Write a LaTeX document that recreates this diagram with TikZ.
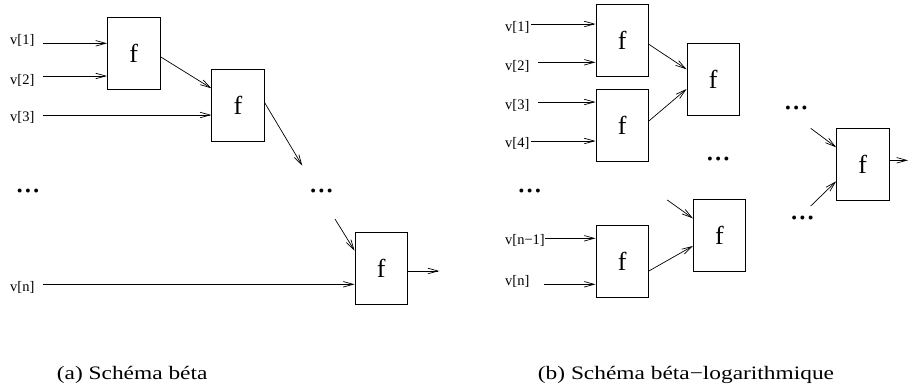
\documentclass[tikz,border=0pt]{standalone}
\usepackage{fontspec}
\setmainfont{Liberation Serif}
\newfontfamily\capfont[FakeStretch=1.23]{Liberation Serif}
\usetikzlibrary{arrows.meta,calc}
\begin{document}
\begin{tikzpicture}[x=1pt,y=-1pt,
  fbox/.style={draw,line width=0.8pt,minimum width=52.5pt,minimum height=72pt,inner sep=0pt,font=\fontsize{26}{26}\selectfont},
  lbl/.style={anchor=west,inner sep=0pt,font=\fontsize{14.5}{14.5}\selectfont},
  dotsnode/.style={anchor=base,inner sep=0pt,font=\fontsize{33}{33}\selectfont},
  captext/.style={anchor=base west,inner sep=0pt,font=\capfont\fontsize{19}{19}\selectfont},
  conn/.style={line width=0.7pt,-{Straight Barb[length=10pt,width=5.5pt]}}]
\useasboundingbox (0,0) rectangle (909,389);

% ---- (a) ----
\node[fbox] (b1) at (133.7,53.3) {f};
\node[fbox] (b2) at (238,105.3) {f};
\node[fbox] (b3) at (381.2,268.2) {f};

\node[lbl] (l1) at (10,40) {v[1]};
\node[lbl] (l2) at (10,80) {v[2]};
\node[lbl] (l3) at (10,117) {v[3]};
\node[lbl] (ln) at (10,287) {v[n]};

\coordinate (s1) at (42.7,43.3);
\coordinate (s2) at (42.7,76);
\coordinate (s3) at (42.7,115);
\coordinate (sn) at (42.7,284.3);
\draw[conn] (s1) -- (s1 -| b1.west);
\draw[conn] (s2) -- (s2 -| b1.west);
\draw[conn] (s3) -- (s3 -| b2.west);
\draw[conn] (sn) -- (sn -| b3.west);

\node[dotsnode] (d1) at (28,192.8) {...};
\node[dotsnode] (d2) at (321.5,192.8) {...};

\draw[conn] ($(b1.east)+(0,3.4)$) -- ($(b2.west)+(0,-17)$);
\coordinate (e2) at (302.3,165.7);
\draw[conn] ($(b2.east)+(0,-2.6)$) -- (e2);
\coordinate (s4) at (335,219);
\draw[conn] (s4) -- ($(b3.west)+(0,-17.5)$);
\coordinate (o1) at (439.3,271);
\draw[conn] ($(b3.east)+(0,2.8)$) -- (o1);

% ---- (b) ----
\node[fbox] (A) at (622.2,40.2) {f};
\node[fbox] (B) at (622.2,125) {f};
\node[fbox] (C) at (713.2,79.3) {f};
\node[fbox] (D) at (622.2,261.5) {f};
\node[fbox] (E) at (719.5,235.5) {f};
\node[fbox] (F) at (862.8,164) {f};

\node[lbl] (r1) at (505,27) {v[1]};
\node[lbl] (r2) at (505,66) {v[2]};
\node[lbl] (r3) at (505,105) {v[3]};
\node[lbl] (r4) at (505,143.5) {v[4]};
\node[lbl] (rn1) at (505,240.8) {v[n−1]};
\node[lbl] (rn) at (505,281.7) {v[n]};

\coordinate (t1) at (531,24);
\coordinate (t2) at (537.7,62.3);
\coordinate (t3) at (537.7,102);
\coordinate (t4) at (531,141);
\coordinate (t5) at (545,238.3);
\coordinate (t6) at (544,284.3);
\draw[conn] (t1) -- (t1 -| A.west);
\draw[conn] (t2) -- (t2 -| A.west);
\draw[conn] (t3) -- (t3 -| B.west);
\draw[conn] (t4) -- (t4 -| B.west);
\draw[conn] (t5) -- (t5 -| D.west);
\draw[conn] (t6) -- (t6 -| D.west);

\node[dotsnode] (rd1) at (529.7,192.8) {...};
\node[dotsnode] (rd2) at (718.3,160.8) {...};
\node[dotsnode] (rd3) at (796.3,109.1) {...};
\node[dotsnode] (rd4) at (802.5,219.1) {...};

\draw[conn] ($(A.east)+(0,4.1)$) -- ($(C.west)+(0,-10)$);
\draw[conn] ($(B.east)+(0,-4)$) -- ($(C.west)+(0,9.7)$);
\draw[conn] ($(D.east)+(0,9.5)$) -- ($(E.west)+(0,10.5)$);
\coordinate (u1) at (667.3,200);
\draw[conn] (u1) -- ($(E.west)+(0,-17.2)$);
\coordinate (u2) at (810.7,128.3);
\draw[conn] (u2) -- ($(F.west)+(0,-16.7)$);
\coordinate (u3) at (810.7,206);
\draw[conn] (u3) -- ($(F.west)+(0,17.3)$);
\coordinate (o2) at (908,160.3);
\draw[conn] ($(F.east)+(0,-3.7)$) -- (o2);

% ---- captions ----
\node[captext] (ca) at (56.7,379.5) {(a) Schéma béta};
\node[captext] (cb) at (537.7,379.5) {(b) Schéma béta−logarithmique};
\end{tikzpicture}
\end{document}
